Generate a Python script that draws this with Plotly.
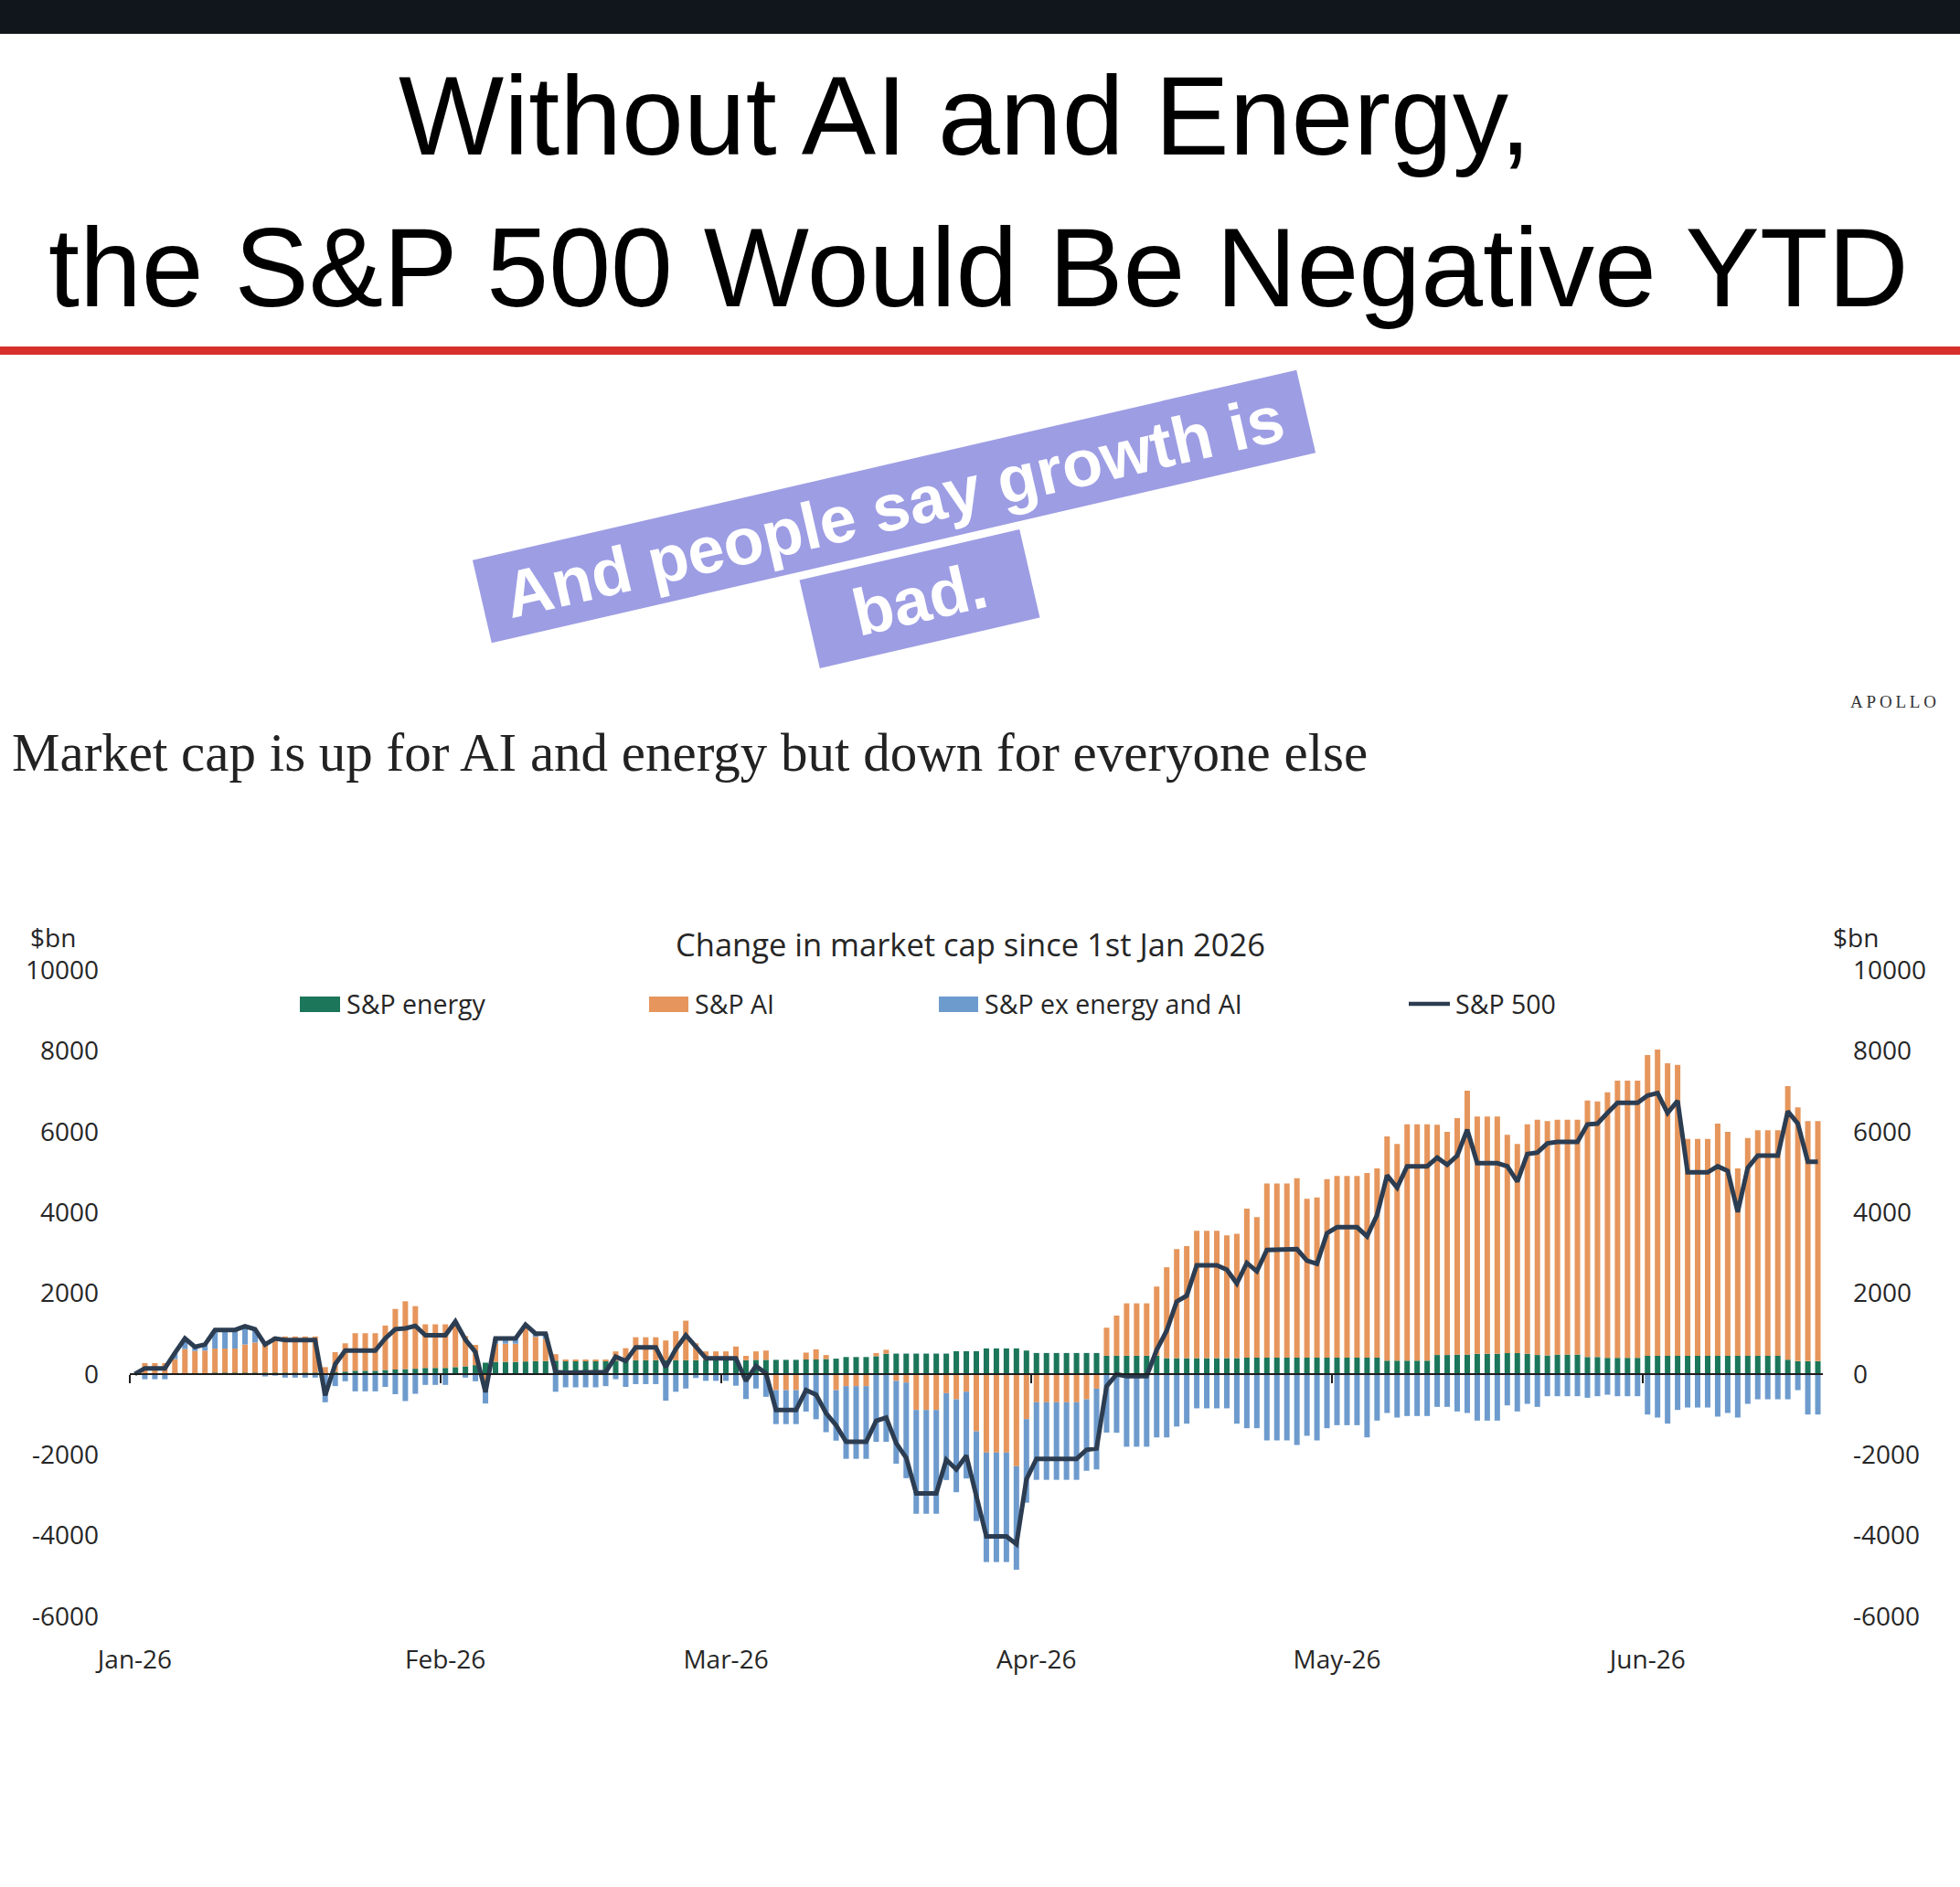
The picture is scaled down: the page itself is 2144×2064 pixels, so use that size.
import plotly.graph_objects as go
import pandas as pd

# ---------------- data (change in market cap since 1 Jan 2026, $bn, daily) ----------------
start_date = "2026-01-01"
end_date = "2026-06-18"

energy_jan = [0, 10, 10, 10, 20, 20, 20, 20, 30, 30, 30, 30, 30, 30, 30, 30, 30, 30, 30,
              20, 40, 60, 80, 80, 80, 100, 110, 120, 130, 150, 150]
energy_feb = [150, 170, 190, 220, 280, 300, 300, 300, 310, 320, 320, 330, 330, 330, 330, 330,
              330, 330, 330, 340, 340, 340, 340, 340, 340, 340, 340, 340]
energy_mar = [340, 340, 340, 350, 350, 350, 350, 350, 360, 360, 370, 380, 420, 420, 420,
              440, 500, 505, 505, 505, 505, 505, 505, 565, 565, 565, 633, 633, 633, 633, 580]
energy_apr = [520, 520, 520, 520, 520, 520, 520, 452, 452, 452, 452, 452, 452, 392, 392, 392,
              392, 392, 392, 392, 392, 407, 407, 407, 407, 407, 407, 407, 407, 407]
energy_may = [407, 407, 407, 407, 407, 330, 330, 330, 330, 330, 470, 470, 480, 480, 500, 500,
              500, 520, 520, 500, 470, 460, 480, 480, 480, 420, 420, 400, 400, 400, 400]
energy_jun = [452, 452, 452, 452, 452, 452, 452, 452, 452, 452, 452, 452, 452, 452, 354, 317, 317, 317]

ai_jan = [0, 260, 260, 260, 350, 600, 550, 560, 600, 600, 600, 700, 750, 760, 890, 900, 900, 900, 900,
          150, 500, 700, 930, 930, 930, 1100, 1500, 1680, 1550, 1080, 1080]
ai_feb = [1080, 1100, 750, 500, -380, 450, 450, 450, 850, 600, 550, 160, 30, 30, 30, 30,
          20, 230, 310, 570, 570, 570, 490, 720, 980, 420, 220, 220]
ai_mar = [220, 340, 110, 210, 230, -400, -400, -400, 170, 250, 100, -400, -300, -300, -300,
          80, 100, -170, -210, -890, -890, -890, -475, -626, -437, -1420, -1945, -1945, -1945, -2285, -1116]
ai_apr = [-700, -700, -700, -700, -700, -626, -362, 694, 995, 1297, 1297, 1297, 1712, 2250, 2700, 2775,
          3150, 3150, 3150, 3040, 3080, 3685, 3476, 4306, 4306, 4306, 4441, 3928, 3966, 4418]
ai_may = [4494, 4494, 4494, 4569, 4683, 5550, 5362, 5852, 5852, 5852, 5700, 5524, 5853, 6532, 5872, 5872,
          5872, 5399, 5172, 5683, 5826, 5798, 5815, 5815, 5815, 6348, 6328, 6575, 6861, 6861, 6861]
ai_jun = [7443, 7578, 7239, 7201, 5369, 5369, 5369, 5745, 5542, 4637, 5392, 5580, 5580, 5580, 6772, 6281, 5941, 5941]

ex_jan = [0, -130, -130, -130, 150, 260, 100, 150, 460, 460, 460, 450, 330, -60, -40, -90, -90, -90, -90,
          -700, -300, -180, -430, -430, -430, -320, -500, -670, -490, -270, -270]
ex_feb = [-270, 30, -90, -180, -350, 130, 130, 130, 60, 80, 130, -440, -330, -330, -330, -330,
          -300, -130, -320, -250, -250, -250, -660, -440, -360, -100, -170, -170]
ex_mar = [-170, -290, -620, -360, -565, -840, -840, -840, -930, -1120, -1440, -1250, -1800, -1800, -1800,
          -1680, -1680, -2050, -2370, -2570, -2570, -2570, -2150, -2300, -2150, -2220, -2710, -2710, -2710, -2560, -2070]
ex_apr = [-1920, -1920, -1920, -1920, -1920, -1770, -2000, -1450, -1455, -1800, -1800, -1800, -1570, -1570, -1300, -1230,
          -850, -850, -850, -850, -1230, -1342, -1342, -1644, -1644, -1644, -1757, -1530, -1644, -1342]
ex_may = [-1267, -1267, -1267, -1568, -1154, -965, -1078, -1040, -1040, -1040, -814, -814, -927, -965, -1154, -1154,
          -1154, -777, -927, -739, -814, -550, -550, -550, -550, -588, -550, -513, -550, -550, -550]
ex_jun = [-1003, -1078, -1229, -890, -830, -830, -830, -1055, -965, -1078, -739, -626, -626, -626, -626, -400, -1003, -1003]

sp500_jan = [0, 140, 140, 140, 520, 880, 670, 730, 1090, 1090, 1090, 1180, 1110, 730, 880, 840, 840, 840, 840,
             -530, 240, 580, 580, 580, 580, 880, 1110, 1130, 1190, 960, 960]
sp500_feb = [960, 1300, 850, 540, -450, 880, 880, 880, 1220, 1000, 1000, 50, 30, 30, 30, 30,
             50, 430, 320, 660, 660, 660, 170, 620, 960, 660, 390, 390]
sp500_mar = [390, 390, -170, 200, 15, -890, -890, -890, -400, -510, -970, -1270, -1680, -1680, -1680,
             -1160, -1080, -1715, -2075, -2955, -2955, -2955, -2120, -2361, -2022, -3075, -4022, -4022, -4022, -4212, -2606]
sp500_apr = [-2100, -2100, -2100, -2100, -2100, -1876, -1842, -304, -8, -51, -51, -51, 594, 1072, 1792, 1937,
             2692, 2692, 2692, 2582, 2242, 2750, 2541, 3069, 3069, 3069, 3091, 2805, 2729, 3483]
sp500_may = [3634, 3634, 3634, 3408, 3936, 4915, 4614, 5142, 5142, 5142, 5356, 5180, 5406, 6047, 5218, 5218,
             5218, 5142, 4765, 5444, 5482, 5708, 5745, 5745, 5745, 6180, 6198, 6462, 6711, 6711, 6711]
sp500_jun = [6892, 6952, 6462, 6763, 4991, 4991, 4991, 5142, 5029, 4011, 5105, 5406, 5406, 5406, 6500, 6198, 5255, 5255]

energy = energy_jan + energy_feb + energy_mar + energy_apr + energy_may + energy_jun
ai = ai_jan + ai_feb + ai_mar + ai_apr + ai_may + ai_jun
ex = ex_jan + ex_feb + ex_mar + ex_apr + ex_may + ex_jun
sp500 = sp500_jan + sp500_feb + sp500_mar + sp500_apr + sp500_may + sp500_jun

month_ticks = ["2026-01-01", "2026-02-01", "2026-03-01", "2026-04-01", "2026-05-01", "2026-06-01"]
month_labels = ["Jan-26", "Feb-26", "Mar-26", "Apr-26", "May-26", "Jun-26"]
y_ticks = [-6000, -4000, -2000, 0, 2000, 4000, 6000, 8000, 10000]
y_labels = ["-6000", "-4000", "-2000", "0", "2000", "4000", "6000", "8000", "10000"]

series_names = ["S&P energy", "S&P AI", "S&P ex energy and AI", "S&P 500"]

# ---------------- styling ----------------
C_ENERGY = "#1b765a"
C_AI = "#e6965c"
C_EX = "#6e9bcd"
C_LINE = "#2c3d52"
TXT = "#262626"
SANS = "Open Sans"

W, H = 2144, 2064
L, R, T, B = 142, 150, 1061, 296
PW = W - L - R
PH = H - T - B


def px(x):
    return (x - L) / PW


def py(y):
    return (H - B - y) / PH


dates = pd.date_range(start_date, end_date, freq="D")
assert len(dates) == len(energy) == len(ai) == len(ex) == len(sp500)

half_day = pd.Timedelta(hours=12)
x_range = [dates[0] - half_day, dates[-1] + half_day]
boundaries = [pd.Timestamp(m) - half_day for m in month_ticks]
bar_w = 0.55 * 86400000

fig = go.Figure()
fig.add_bar(x=dates, y=energy, name=series_names[0], marker=dict(color=C_ENERGY, line=dict(width=0)), width=bar_w)
fig.add_bar(x=dates, y=ai, name=series_names[1], marker=dict(color=C_AI, line=dict(width=0)), width=bar_w)
fig.add_bar(x=dates, y=ex, name=series_names[2], marker=dict(color=C_EX, line=dict(width=0)), width=bar_w)
fig.add_scatter(x=dates, y=sp500, name=series_names[3], mode="lines",
                line=dict(color=C_LINE, width=5))
# invisible helper trace so the zero-line axis and the right axis are drawn
fig.add_scatter(x=[dates[0], dates[-1]], y=[0, 0], xaxis="x2", yaxis="y2", mode="markers",
                marker=dict(opacity=0), showlegend=False, hoverinfo="skip")

tickfont = dict(family=SANS, size=28, color=TXT)

fig.update_layout(
    width=W, height=H,
    margin=dict(l=L, r=R, t=T, b=B, pad=0),
    paper_bgcolor="white", plot_bgcolor="white",
    barmode="relative",
    showlegend=False,
    xaxis=dict(type="date", range=x_range, tickvals=month_ticks, ticktext=month_labels,
               showgrid=False, zeroline=False, showline=False, ticks="",
               tickfont=tickfont, ticklabelstandoff=28),
    yaxis=dict(range=[-6000, 10000], tickvals=y_ticks, ticktext=y_labels,
               showgrid=False, zeroline=False, showline=False, ticks="",
               tickfont=tickfont, ticklabelstandoff=33),
    xaxis2=dict(type="date", overlaying="x", anchor="free", position=6000 / 16000,
                range=x_range, tickvals=boundaries, showticklabels=False,
                ticks="outside", ticklen=9, tickwidth=2, tickcolor="#1e1e1e",
                showline=True, linecolor="#1e1e1e", linewidth=2,
                showgrid=False, zeroline=False),
    yaxis2=dict(overlaying="y", side="right", anchor="x", range=[-6000, 10000],
                tickvals=y_ticks, ticktext=y_labels, showgrid=False, zeroline=False,
                showline=False, ticks="", tickfont=tickfont, ticklabelstandoff=32),
)

shapes = [
    dict(type="rect", xref="paper", yref="paper", x0=px(0), x1=px(W), y0=py(37), y1=py(0),
         fillcolor="#11151c", line=dict(width=0)),
    dict(type="rect", xref="paper", yref="paper", x0=px(0), x1=px(W), y0=py(388), y1=py(379),
         fillcolor="#d7302b", line=dict(width=0)),
    # legend keys
    dict(type="rect", xref="paper", yref="paper", x0=px(328), x1=px(372), y0=py(1107), y1=py(1090),
         fillcolor=C_ENERGY, line=dict(width=0)),
    dict(type="rect", xref="paper", yref="paper", x0=px(710), x1=px(753), y0=py(1107), y1=py(1090),
         fillcolor=C_AI, line=dict(width=0)),
    dict(type="rect", xref="paper", yref="paper", x0=px(1027), x1=px(1070), y0=py(1107), y1=py(1090),
         fillcolor=C_EX, line=dict(width=0)),
    dict(type="line", xref="paper", yref="paper", x0=px(1541), x1=px(1586), y0=py(1098), y1=py(1098),
         line=dict(color=C_LINE, width=4.5)),
]
fig.update_layout(shapes=shapes)


def ann(text, x, y, size, family=SANS, color=TXT, xanchor="center", **kw):
    fig.add_annotation(text=text, x=px(x), y=py(y), xref="paper", yref="paper",
                       showarrow=False, xanchor=xanchor, yanchor="middle",
                       font=dict(family=family, size=size, color=color, **kw.pop("font_extra", {})), **kw)


ann("Without AI and Energy,", 1055, 127, 122, family="Liberation Sans", color="#000000")
ann("the S&P 500 Would Be Negative YTD", 1070, 293, 122, family="Liberation Sans", color="#000000")

ann("\u00a0And people say growth is\u00a0", 978, 554, 72, family="Liberation Sans", color="white",
    textangle=-13, bgcolor="#9d9de4", borderpad=6, font_extra=dict(weight=700))
ann("\u00a0\u00a0bad.\u00a0\u00a0", 1006, 655, 72, family="Liberation Sans", color="white",
    textangle=-13, bgcolor="#9d9de4", borderpad=9, font_extra=dict(weight=700))

ann("Market cap is up for AI and energy but down for everyone else", 11, 823, 59,
    family="Liberation Serif", color="#222222", xanchor="left")
ann("A\u2009P\u2009O\u2009L\u2009L\u2009O", 2071, 767, 19, family="Liberation Serif", color="#333333")

ann("Change in market cap since 1st Jan 2026", 1061, 1032, 34.5)
ann("$bn", 58, 1025, 28)
ann("$bn", 2030, 1025, 28)

ann(series_names[0], 377, 1098, 28.5, xanchor="left")
ann(series_names[1], 758, 1098, 28.5, xanchor="left")
ann(series_names[2], 1075, 1098, 28.5, xanchor="left")
ann(series_names[3], 1590, 1098, 28.5, xanchor="left")

fig.write_html("out.html")
